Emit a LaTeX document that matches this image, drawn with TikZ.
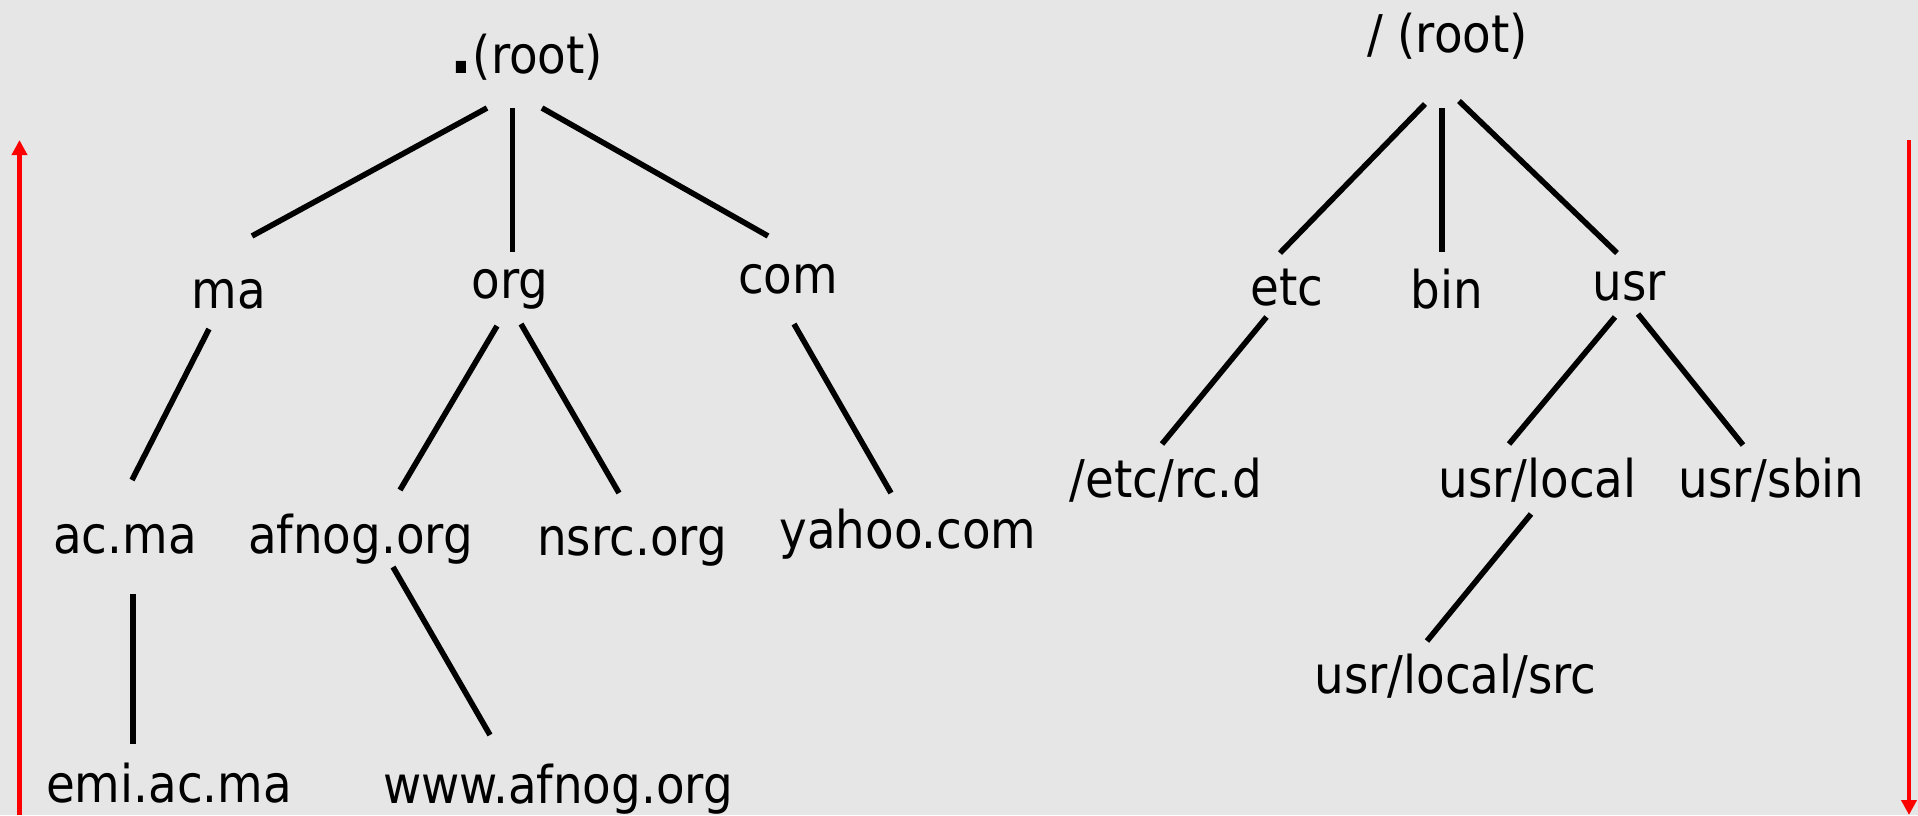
\documentclass[tikz,border=0pt]{standalone}
\usepackage{fontspec}
\setmainfont{DejaVu Sans Condensed}
\usetikzlibrary{arrows.meta}
\definecolor{bgcol}{RGB}{230,230,230}
\definecolor{redline}{RGB}{255,0,0}
\tikzset{
  lbl/.style={anchor=base, inner sep=0pt, font=\fontsize{26}{30}\selectfont, text=black},
  edge/.style={draw=black, line width=2.8pt},
  redarrow/.style={draw=redline, line width=2.3pt, -{Triangle[length=7.5pt,width=7.5pt]}}
}
\begin{document}
\begin{tikzpicture}[x=0.5pt,y=-0.5pt]
\useasboundingbox (0,0) rectangle (1918,815);
\fill[bgcol] (0,0) rectangle (1918,815);

% DNS tree
\node[lbl] (root) at (527,73) {{\fontsize{32}{32}\selectfont\bfseries .}(root)};
\node[lbl] (ma) at (229,308) {ma};
\node[lbl] (org) at (510,298) {org};
\node[lbl] (com) at (788,293) {com};
\node[lbl] (acma) at (125,553) {ac.ma};
\node[lbl] (afnog) at (360.5,553) {afnog.org};
\node[lbl] (nsrc) at (632,555) {nsrc.org};
\node[lbl] (yahoo) at (908,548) {yahoo.com};
\node[lbl] (emi) at (169,802) {emi.ac.ma};
\node[lbl] (www) at (558,803) {www.afnog.org};

\draw[edge] ([shift={(-40,35)}]root.base) -- ([shift={(23,-72)}]ma.base);
\draw[edge] ([shift={(-14.5,35)}]root.base) -- ([shift={(2.5,-46)}]org.base);
\draw[edge] ([shift={(15,35)}]root.base) -- ([shift={(-20,-57)}]com.base);
\draw[edge] ([shift={(-20,21)}]ma.base) -- ([shift={(7,-73)}]acma.base);
\draw[edge] ([shift={(-13,28)}]org.base) -- ([shift={(39.5,-63)}]afnog.base);
\draw[edge] ([shift={(11,26)}]org.base) -- ([shift={(-13,-62)}]nsrc.base);
\draw[edge] ([shift={(6,31)}]com.base) -- ([shift={(-17,-55)}]yahoo.base);
\draw[edge] ([shift={(8,41)}]acma.base) -- ([shift={(-36,-58)}]emi.base);
\draw[edge] ([shift={(32.5,14)}]afnog.base) -- ([shift={(-68,-68)}]www.base);

% File system tree
\node[lbl] (root2) at (1447.5,52) {/ (root)};
\node[lbl] (etc) at (1287,305) {etc};
\node[lbl] (bin) at (1446.5,308) {bin};
\node[lbl] (usr) at (1629,300) {usr};
\node[lbl] (rcd) at (1166,497) {/etc/rc.d};
\node[lbl] (local) at (1537.5,497) {usr/local};
\node[lbl] (sbin) at (1771.5,497) {usr/sbin};
\node[lbl] (src) at (1455.5,693) {usr/local/src};

\draw[edge] ([shift={(-22.5,52)}]root2.base) -- ([shift={(-7,-52)}]etc.base);
\draw[edge] ([shift={(-5.5,56)}]root2.base) -- ([shift={(-4.5,-56)}]bin.base);
\draw[edge] ([shift={(11.5,49)}]root2.base) -- ([shift={(-12,-47)}]usr.base);
\draw[edge] ([shift={(-20.5,12)}]etc.base) -- ([shift={(-4,-53)}]rcd.base);
\draw[edge] ([shift={(-14,17)}]usr.base) -- ([shift={(-28.5,-53)}]local.base);
\draw[edge] ([shift={(9,14)}]usr.base) -- ([shift={(-28.5,-52)}]sbin.base);
\draw[edge] ([shift={(-6.5,17)}]local.base) -- ([shift={(-28.5,-52)}]src.base);

% red arrows
\coordinate (la) at (19.5,815);
\coordinate (lb) at (19.5,140);
\coordinate (ra) at (1909,140);
\coordinate (rb) at (1909,815);
\draw[redarrow] (la) -- (lb);
\draw[redarrow] (ra) -- (rb);
\end{tikzpicture}
\end{document}
